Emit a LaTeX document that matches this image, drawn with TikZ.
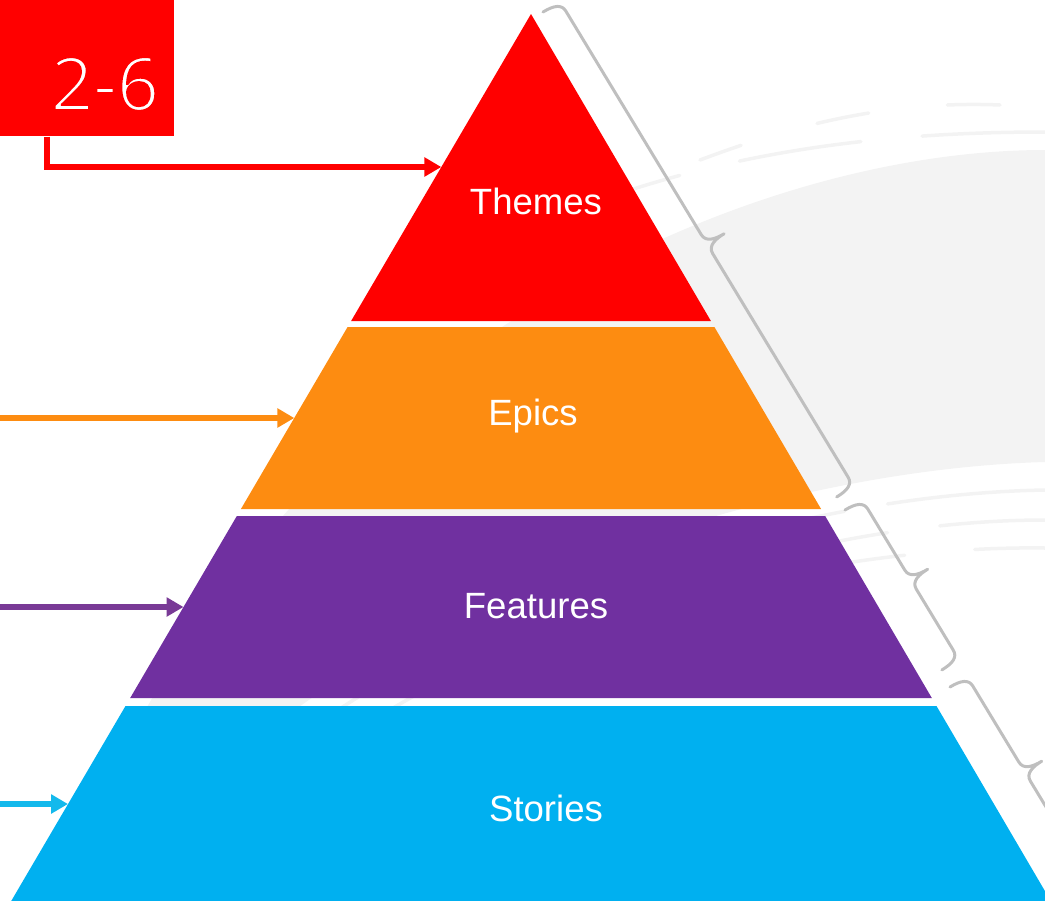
\documentclass[tikz,border=0pt]{standalone}
\usepackage{fontspec}
\setmainfont{Liberation Sans}
\newfontfamily\badgefont{Open Sans}
\usetikzlibrary{arrows.meta,calc}
\definecolor{themered}{RGB}{255,0,0}
\definecolor{epicorange}{RGB}{253,140,17}
\definecolor{featurepurple}{RGB}{112,48,160}
\definecolor{arrowpurple}{RGB}{121,58,150}
\definecolor{storycyan}{RGB}{0,176,240}
\definecolor{arrowcyan}{RGB}{20,185,236}
\definecolor{bracegray}{RGB}{191,191,191}
\definecolor{swooshgray}{RGB}{243,243,243}
% thin the badge digits: fill white, then stroke the outline in red
\newcommand{\thinnum}[1]{\special{pdf:code q 2 Tr 1 0 0 RG 1.3 w}#1\special{pdf:code 0 Tr Q}}
\tikzset{
  layerlabel/.style={text=white,font=\fontsize{20.8}{24}\selectfont},
  feed/.style={line width=0.11cm,-{Triangle[length=0.34cm,width=0.37cm]}},
  bracemark/.style={draw=bracegray,line width=0.06cm,line cap=round,line join=round},
  streak/.style={swooshgray,line width=0.07cm,line cap=round}
}

\begin{document}
\begin{tikzpicture}[x=0.02cm,y=-0.02cm]
\useasboundingbox (0,0) rectangle (1045,900);
\clip (0,0) rectangle (1045,900);
%background swoosh
\fill[swooshgray] (1045,150) .. controls (760,150) and (350,330) .. (140,720)
  -- (250,745) .. controls (420,600) and (760,470) .. (1045,462) -- cycle;
\draw[streak,dash pattern=on 90 off 25] (1045,490) .. controls (760,495) and (440,620) .. (270,760);
\draw[streak,dash pattern=on 60 off 30] (1045,520) .. controls (780,520) and (470,640) .. (300,770);
\draw[streak,dash pattern=on 40 off 40] (1045,548) .. controls (820,545) and (560,620) .. (420,700);
\draw[streak,dash pattern=on 70 off 35] (1045,132) .. controls (850,132) and (700,160) .. (560,215);
\draw[streak,dash pattern=on 30 off 45] (1000,105) .. controls (880,100) and (780,130) .. (700,160);
%pyramid layers
\foreach \ya/\yb/\col in {14/321/themered,327/509/epicorange,516/698/featurepurple,706/905/storycyan}
  \fill[\col] ({531-0.586*(\ya-14)},\ya) -- ({531+0.586*(\ya-14)},\ya)
    -- ({531+0.586*(\yb-14)},\yb) -- ({531-0.586*(\yb-14)},\yb) -- cycle;
%labels
\node[layerlabel] (themes) at (536,201) {Themes};
\node[layerlabel] (epics) at (533,416) {Epics};
\node[layerlabel] (features) at (536,606) {Features};
\node[layerlabel] (stories) at (546,808) {Stories};
%badge
\node[fill=themered,minimum width=3.48cm,minimum height=2.72cm,inner sep=0,anchor=north west] (badge) at (0,0) {};
\node[text=white,font=\badgefont\fontsize{42}{48}\selectfont] (badgenum) at (105,84) {\thinnum{2-6}};
%arrows into the layers
\coordinate (badgefoot) at ([xshift=0.94cm]badge.south west);
\coordinate (themesin) at (441.3,167);
\coordinate (epicsfrom) at (0,418);
\coordinate (epicsin) at (294.3,418);
\coordinate (featuresfrom) at (0,607);
\coordinate (featuresin) at (183.5,607);
\coordinate (storiesfrom) at (0,804);
\coordinate (storiesin) at (68,804);
\draw[feed,themered] (badgefoot) |- (themesin);
\draw[feed,epicorange] (epicsfrom) -- (epicsin);
\draw[feed,arrowpurple] (featuresfrom) -- (featuresin);
\draw[feed,arrowcyan] (storiesfrom) -- (storiesin);
%braces
\foreach \sx/\sy/\len in {543/12/567,845/510/187,950/687/222}{
  \pgfmathsetmacro\hm{\len/2}
  \begin{scope}[shift={(\sx,\sy)},rotate=-58.8]
  \draw[bracemark] (0,0) .. controls (0,-13) and (3,-20) .. (11,-20)
    -- ({\hm-11},-20) .. controls ({\hm-2},-20) and (\hm,-30) .. (\hm,-40)
    .. controls (\hm,-30) and ({\hm+2},-20) .. ({\hm+11},-20)
    -- ({\len-11},-20) .. controls ({\len-3},-20) and (\len,-13) .. (\len,0);
  \end{scope}
}
\end{tikzpicture}
\end{document}
